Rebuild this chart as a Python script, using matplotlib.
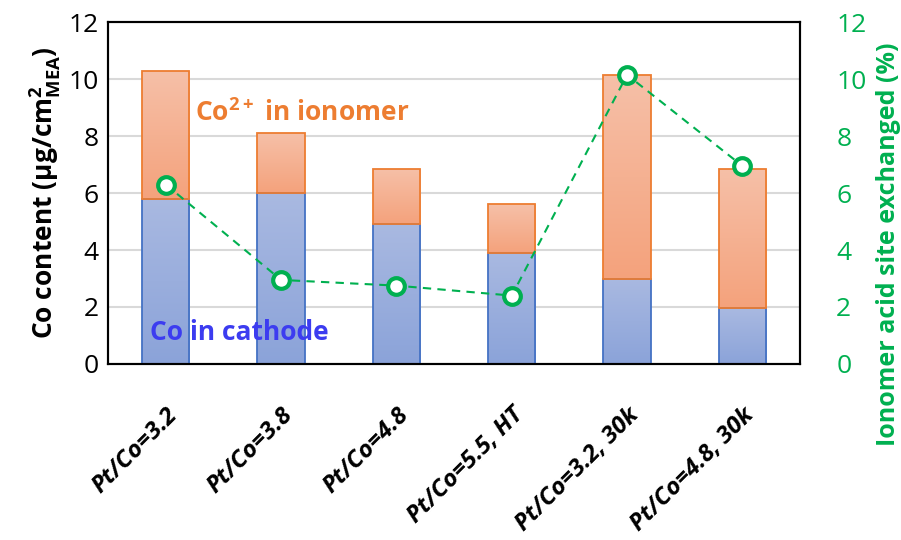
import matplotlib
matplotlib.use("Agg")
import matplotlib.pyplot as plt
import numpy as np
from matplotlib.colors import LinearSegmentedColormap

plt.rcParams["font.family"] = ["Open Sans", "DejaVu Sans"]
plt.rcParams["mathtext.fontset"] = "custom"
plt.rcParams["mathtext.rm"] = "Open Sans:bold"
plt.rcParams["mathtext.bf"] = "Open Sans:bold"
plt.rcParams["mathtext.it"] = "Open Sans:bold"

# samples
samples = ["Pt/Co=3.2", "Pt/Co=3.8", "Pt/Co=4.8", "Pt/Co=5.5, HT",
           "Pt/Co=3.2, 30k", "Pt/Co=4.8, 30k"]
# Co content (ug/cm2 MEA)
co_cathode = [5.8, 6.0, 4.9, 3.9, 3.0, 1.95]
co_ionomer = [4.5, 2.1, 1.95, 1.7, 7.15, 4.9]
# ionomer acid sites exchanged (%)
exchanged = [6.3, 2.95, 2.75, 2.4, 10.15, 6.95]

green = "#00b050"

fig, ax = plt.subplots(figsize=(9.01, 5.40), dpi=100)
fig.subplots_adjust(left=0.12, right=0.888, top=0.959, bottom=0.326)

x = np.arange(len(samples))
w = 0.41

b1 = ax.bar(x, co_cathode, w, facecolor="none", edgecolor="#4472c4", lw=1.3, zorder=3)
b2 = ax.bar(x, co_ionomer, w, bottom=co_cathode, facecolor="none",
            edgecolor="#ed7d31", lw=1.3, zorder=3)

# vertical gradient fill inside each bar
blue_cm = LinearSegmentedColormap.from_list("b", ["#8ba3d9", "#a9b9e1"])
orange_cm = LinearSegmentedColormap.from_list("o", ["#f4a27c", "#f6c0a8"])
grad = np.linspace(0, 1, 256).reshape(-1, 1)
for bars, cm in ((b1, blue_cm), (b2, orange_cm)):
    for r in bars:
        x0, y0 = r.get_x(), r.get_y()
        im = ax.imshow(grad, cmap=cm, origin="lower", aspect="auto",
                       extent=[x0, x0 + r.get_width(), y0, y0 + r.get_height()],
                       zorder=2)
        im.set_clip_path(r)

ax.set_xlim(-0.5, len(samples) - 0.5)
ax.set_ylim(0, 12)
ax.set_yticks(range(0, 13, 2))
ax.yaxis.grid(True, color="#d9d9d9", lw=1.5, zorder=0)
ax.set_axisbelow(True)
ax.tick_params(axis="both", length=0, labelsize=19, pad=7)
ax.set_xticks(x)
ax.set_xticklabels(samples, rotation=45, ha="right", rotation_mode="anchor",
                   fontsize=17.5, fontweight="bold", fontstyle="italic")
ax.tick_params(axis="x", pad=28)
for s in ax.spines.values():
    s.set_linewidth(1.5)
    s.set_color("black")

ax.set_ylabel(r"Co content (μg/cm$^{2}_{\mathrm{MEA}}$)", fontsize=19,
              fontweight="bold", labelpad=4)

ax.text(0.255, 8.8, r"Co$^{\mathbf{2+}}$ in ionomer", color="#ed7d31",
        fontsize=19, fontweight="bold", va="center")
ax.text(-0.14, 1.09, "Co in cathode", color="#3c3cf0",
        fontsize=19, fontweight="bold", va="center", zorder=5)

ax2 = ax.twinx()
ax2.plot(x, exchanged, ls="--", color=green, lw=1.5, dashes=(4, 3),
         marker="o", ms=12, mfc="white", mec=green, mew=3, zorder=5)
ax2.set_ylim(0, 12)
ax2.set_yticks(range(0, 13, 2))
ax2.tick_params(axis="y", length=0, labelsize=19, labelcolor=green, pad=26)
ax2.set_ylabel("Ionomer acid site exchanged (%)", fontsize=18,
               fontweight="bold", color=green)
ax2.yaxis.set_label_coords(1.11, 0.35)
for s in ax2.spines.values():
    s.set_linewidth(1.5)

fig.savefig("out.png", dpi=100)
